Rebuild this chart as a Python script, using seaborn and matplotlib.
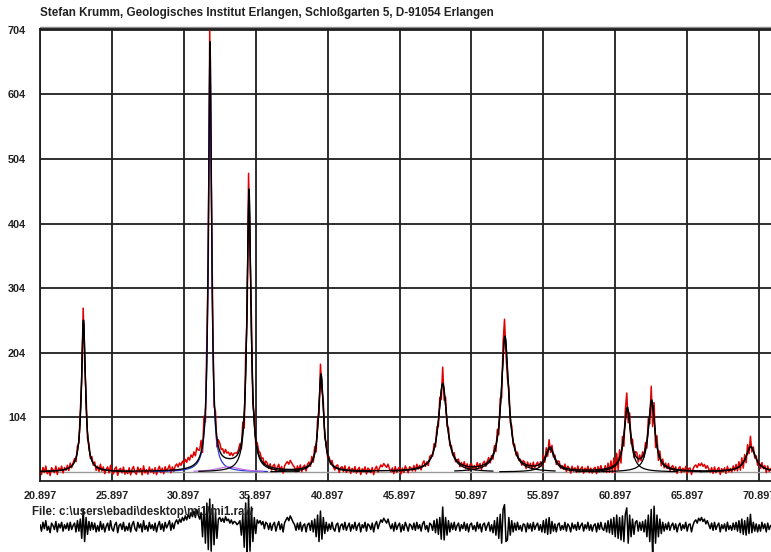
import numpy as np
import pandas as pd
import matplotlib.pyplot as plt
import seaborn as sns

# peak table of the profile fit (2theta, height above background, FWHM)
peak_pos = [23.92, 32.72, 34.00, 35.43, 40.44, 48.90, 53.23, 56.36, 61.74, 63.43, 70.32]
peak_height = [235, 662, 8, 434, 151, 136, 209, 36, 97, 109, 39]
peak_fwhm = [0.33, 0.26, 2.0, 0.33, 0.42, 0.70, 0.61, 0.75, 0.55, 0.55, 0.80]
peak_color = ['black', '#2b3bd6', '#c070e0', 'black', 'black', 'black',
              'black', 'black', 'black', 'black', 'black']
peak_window = [3.5, 4.0, 2.4, 3.5, 3.5, 3.5, 3.5, 3.5, 3.5, 3.5, 3.5]
background = 19

# measured minus fitted counts, one value every 0.1 deg from 20.9
scan_start = 20.9
scan_step = 0.1
residual = [
    3, -5, 6, -2, 8, -4, 1, -7, 5, 2, -3, 7, -6, 4, -1, 6, -5, 3, -2, 5,
    -4, 6, -3, 2, 5, -6, 8, -5, 10, -14, 22, -18, 12, -9, 7, -4, 6, -3, 5, -6,
    2, -5, 7, -3, 4, -6, 1, 5, -4, 8, -2, -5, 3, 6, -7, 2, 4, -3, 6, -5,
    1, -4, 5, -6, 3, 7, -2, -5, 6, -1, 4, -6, 8, -3, 2, -5, 6, -2, 3, -4,
    5, -6, 2, 7, -3, 4, -5, 6, -1, 3, 8, -4, 5, -2, 6, 9, 4, 10, 6, 12,
    8, 14, 9, 16, 11, 18, 13, 20, 12, 22, 15, 10, 18, -12, 25, -20, 30, -28, 35, -30,
    28, -22, 18, -14, 10, 12, 7, 11, 6, 13, 8, 10, 5, 9, 4, 7, 6, 3, 5, 8,
    -10, 15, -25, 30, -35, 38, -30, 25, -18, 12, -8, 9, 5, 8, 3, 7, -2, 6, 4, -3,
    5, -4, 3, 6, -5, 2, 7, -3, 4, -6, 5, 9, 12, 8, 14, 10, 6, 3, -4, 5,
    -3, 6, -5, 2, 4, -6, 3, 5, -4, 8, -6, 10, -12, 15, -18, 20, -15, 12, -8, 6,
    -5, 4, -3, 6, -2, -5, 3, 5, -6, 2, 4, -3, 6, -4, 1, 5, -5, 3, -2, 6,
    -4, 2, 5, -6, 3, -1, 6, -5, 4, 2, -3, 5, -6, 3, 7, -2, 4, 9, 6, 11,
    8, 5, 10, 3, -2, 4, -5, 6, -3, 2, 5, -6, 3, -4, 6, 1, -5, 4, 2, -3,
    5, -4, 6, -2, 3, -5, 4, 7, -3, 2, -6, 5, 3, -4, 8, -7, 10, -9, 12, -15,
    25, -16, 12, -10, 8, -6, 5, -3, 6, -4, 2, 5, -5, 3, -2, 6, -4, 4, -6, 3,
    5, -3, 2, -5, 6, -2, 4, -6, 3, 5, -4, 2, 6, -5, 3, -7, 8, -10, 12, -14,
    16, -20, 22, 28, -18, -16, 12, -10, 8, -6, 5, -4, 6, -3, 2, -5, 4, 3, -6, 5,
    -2, 4, -5, 6, -3, 2, 5, -4, 3, -6, 8, -7, 10, -9, 12, -8, 7, -5, 4, -6,
    3, 5, -4, 2, -3, 6, -5, 4, 1, -6, 5, -2, 3, -4, 6, -3, 2, 5, -5, 3,
    -2, 6, -4, 3, -5, 2, 4, -6, 5, -3, 6, -2, -4, 5, -6, 8, -7, 10, -9, 12,
    -12, 15, -14, 12, -16, 14, -18, 16, 24, -20, 15, -12, 10, -9, 6, 8, -5, 6, -4, 7,
    -6, 9, -12, 15, -18, 22, -35, 26, -20, 15, -12, 10, -8, 6, -5, 4, -3, 6, -4, 2,
    5, -3, 4, -6, 2, 5, -4, 3, -2, 6, -5, 3, 4, -6, 2, 7, 9, 5, 11, 8,
    12, 7, 10, 4, 8, 3, -2, 5, -4, 6, -3, 2, 5, -6, 3, -2, 4, -5, 6, -3,
    2, -4, 5, -3, 6, -5, 8, -7, 10, -9, 8, -10, 12, -8, 16, -7, 6, -5, 4, -6,
    3, -5, 6, -2, 4, -6, 5, -3, 2,
]

x_tick_values = [20.897, 25.897, 30.897, 35.897, 40.897, 45.897, 50.897, 55.897, 60.897, 65.897, 70.897]
x_tick_labels = ['20.897', '25.897', '30.897', '35.897', '40.897', '45.897',
                 '50.897', '55.897', '60.897', '65.897', '70.897']
y_tick_values = [104, 204, 304, 404, 504, 604, 704]

title = 'Stefan Krumm, Geologisches Institut Erlangen, Schloßgarten 5, D-91054 Erlangen'
file_label = 'File: c:\\users\\ebadi\\desktop\\mi1\\mi1.raw'


def lorentz(x, pos, height, fwhm):
    return height / (1 + (2 * (x - pos) / fwhm) ** 2)


sns.set_theme(style="white")
plt.rcParams['font.family'] = ['Liberation Sans', 'DejaVu Sans']

x_obs = scan_start + scan_step * np.arange(len(residual))
x_fit = np.arange(20.897, 71.75, 0.005)

fit_obs = background + sum(lorentz(x_obs, p, h, w) for p, h, w in zip(peak_pos, peak_height, peak_fwhm))
fit_line = background + sum(lorentz(x_fit, p, h, w) for p, h, w in zip(peak_pos, peak_height, peak_fwhm))
obs = pd.DataFrame({'two_theta': x_obs, 'counts': fit_obs + np.array(residual), 'resid': residual})
fit = pd.DataFrame({'two_theta': x_fit, 'counts': fit_line})

fig = plt.figure(figsize=(7.71, 5.52), dpi=100)
ax = fig.add_axes([40 / 771, 71 / 552, 731 / 771, 452 / 552])

ax.axhline(background, color='#9a9a9a', lw=1.0, zorder=1)
sns.lineplot(data=obs, x='two_theta', y='counts', color='#e00000', lw=1.1,
             estimator=None, ax=ax, zorder=2)

# single peak components, under the total fit
for p, h, w, c, win in zip(peak_pos, peak_height, peak_fwhm, peak_color, peak_window):
    xs = x_fit[np.abs(x_fit - p) < win]
    ax.plot(xs, background + lorentz(xs, p, h, w), color=c, lw=0.9, zorder=2.5)

sns.lineplot(data=fit, x='two_theta', y='counts', color='black', lw=1.0,
             estimator=None, ax=ax, zorder=3)

ax.set_xlim(20.897, 71.73)
ax.set_ylim(5, 705.5)
ax.set_xticks(x_tick_values)
ax.set_xticklabels(x_tick_labels)
ax.set_yticks(y_tick_values)
ax.set_xlabel('')
ax.set_ylabel('')
ax.grid(True, color='#1e1e1e', lw=1.3)
ax.set_axisbelow(True)
for side in ['left', 'bottom', 'top']:
    ax.spines[side].set_color('#1e1e1e')
    ax.spines[side].set_linewidth(1.3)
ax.spines['right'].set_visible(False)
ax.axhline(705.5 + 3.5, color='#8a8a8a', lw=1.0, clip_on=False)
ax.tick_params(direction='out', length=4, width=1.2, colors='#1e1e1e',
               labelsize=7.8, pad=3)
ax.tick_params(axis='y', pad=6)
for lab in ax.get_xticklabels() + ax.get_yticklabels():
    lab.set_fontweight('bold')
    lab.set_color('#222222')

# residual trace below the axis
rax = fig.add_axes([40 / 771, 0, 731 / 771, 57 / 552])
sns.lineplot(data=obs, x='two_theta', y='resid', color='black', lw=1.1,
             estimator=None, ax=rax)
rax.set_xlim(20.897, 71.73)
rax.set_ylim(-31, 40)
rax.axis('off')
rax.patch.set_alpha(0)

fig.text(40 / 771, 1 - 13 / 552, title, fontsize=8.4, fontweight='bold',
         color='#222222', va='center', ha='left')
fig.text(32 / 771, 1 - 512 / 552, file_label, fontsize=8.3, fontweight='bold',
         color='#222222', va='center', ha='left', zorder=0)

fig.savefig('out.png', dpi=100)
